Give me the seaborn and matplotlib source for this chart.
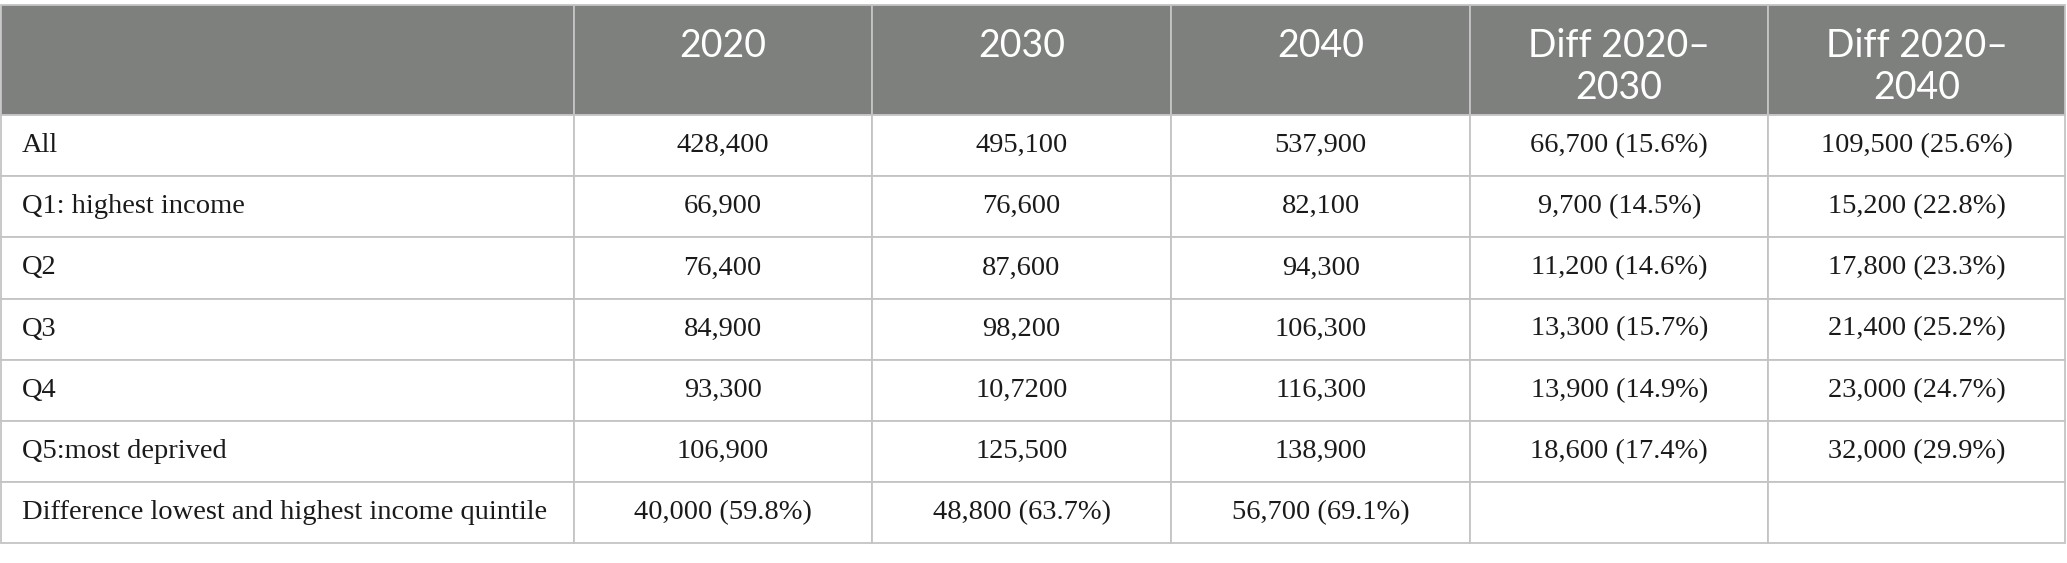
import matplotlib.pyplot as plt
import matplotlib.transforms as mtransforms
import seaborn as sns

# table content
header = ["", "2020", "2030", "2040", "Diff 2020–\n2030", "Diff 2020–\n2040"]
row_labels = ["All", "Q1: highest income", "Q2", "Q3", "Q4", "Q5:most deprived",
              "Difference lowest and highest income quintile"]
y2020 = ["428,400", "66,900", "76,400", "84,900", "93,300", "106,900", "40,000 (59.8%)"]
y2030 = ["495,100", "76,600", "87,600", "98,200", "10,7200", "125,500", "48,800 (63.7%)"]
y2040 = ["537,900", "82,100", "94,300", "106,300", "116,300", "138,900", "56,700 (69.1%)"]
diff_2030 = ["66,700 (15.6%)", "9,700 (14.5%)", "11,200 (14.6%)", "13,300 (15.7%)",
             "13,900 (14.9%)", "18,600 (17.4%)", ""]
diff_2040 = ["109,500 (25.6%)", "15,200 (22.8%)", "17,800 (23.3%)", "21,400 (25.2%)",
             "23,000 (24.7%)", "32,000 (29.9%)", ""]

col_px = [573, 298, 300, 299, 298, 297]
header_color = "#7e807e"
grid_color = "#c4c4c4"

sns.set_theme(style="white")
plt.rcParams['font.family'] = ['Liberation Serif', 'DejaVu Serif']

fig = plt.figure(figsize=(20.67, 5.63), dpi=100)
ax = fig.add_axes([1 / 2067, 20 / 563, 2064 / 2067, 538 / 563])
ax.axis('off')

cell_text = [list(r) for r in zip(row_labels, y2020, y2030, y2040, diff_2030, diff_2040)]
# pad single line headers so all headers start on the same top line
col_labels = [h if "\n" in h else h + "\n " for h in header]
total = sum(col_px)

tbl = ax.table(cellText=cell_text, colLabels=col_labels,
               colWidths=[w / total for w in col_px],
               cellLoc='center', bbox=[0, 0, 1, 1])
tbl.auto_set_font_size(False)

# header text sits a little below the cell centre
header_shift = mtransforms.offset_copy(mtransforms.IdentityTransform(), fig=fig,
                                       x=0, y=-7, units='dots')

for (r, c), cell in tbl.get_celld().items():
    cell.set_edgecolor(grid_color)
    cell.set_linewidth(1.3)
    txt = cell.get_text()
    if r == 0:
        cell.set_facecolor(header_color)
        cell.set_height(110)
        txt.set_color('white')
        txt.set_fontfamily(['Lato', 'DejaVu Sans'])
        txt.set_fontweight('normal')
        txt.set_fontsize(27)
        txt.set_linespacing(1.2)
        txt.set_transform(header_shift)
    else:
        cell.set_facecolor('white')
        cell.set_height(61)
        txt.set_color('#1a1a1a')
        txt.set_fontsize(20.5)
        if c == 0:
            cell.PAD = 21 / col_px[0]
            txt.set_horizontalalignment('left')

fig.savefig("out.png", dpi=100)
